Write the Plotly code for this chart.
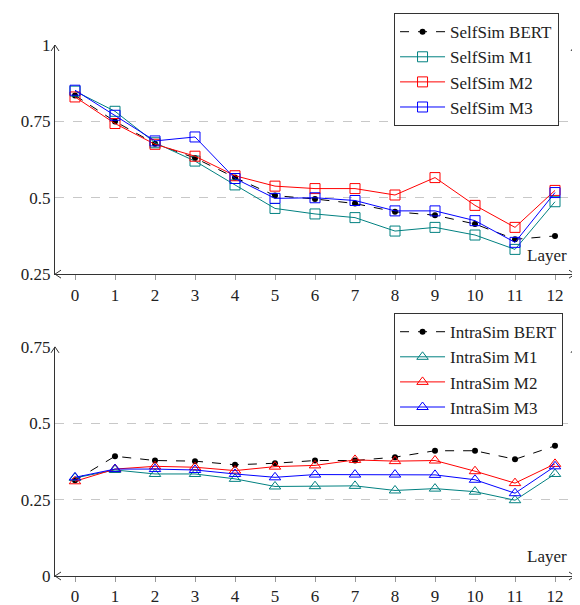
import plotly.graph_objects as go
from plotly.subplots import make_subplots

layers = list(range(13))

# self-similarity per layer
self_bert = [0.835, 0.750, 0.677, 0.630, 0.566, 0.507, 0.496, 0.481, 0.454, 0.443, 0.414, 0.364, 0.375]
self_m1 = [0.849, 0.783, 0.680, 0.620, 0.542, 0.465, 0.447, 0.435, 0.391, 0.403, 0.378, 0.331, 0.487]
self_m2 = [0.830, 0.743, 0.675, 0.636, 0.572, 0.538, 0.530, 0.530, 0.509, 0.566, 0.475, 0.403, 0.524]
self_m3 = [0.852, 0.770, 0.686, 0.699, 0.563, 0.498, 0.500, 0.491, 0.457, 0.457, 0.425, 0.354, 0.517]

# intra-similarity per layer
intra_bert = [0.313, 0.392, 0.378, 0.376, 0.364, 0.369, 0.378, 0.378, 0.389, 0.410, 0.410, 0.382, 0.426]
intra_m1 = [0.321, 0.347, 0.334, 0.334, 0.318, 0.293, 0.294, 0.295, 0.280, 0.286, 0.276, 0.248, 0.334]
intra_m2 = [0.310, 0.350, 0.359, 0.356, 0.345, 0.358, 0.362, 0.380, 0.376, 0.378, 0.343, 0.304, 0.367]
intra_m3 = [0.323, 0.350, 0.350, 0.347, 0.334, 0.323, 0.332, 0.332, 0.332, 0.331, 0.315, 0.271, 0.359]

TEAL = "#008080"
FONT = "Liberation Serif"

fig = make_subplots(rows=2, cols=1)


def add_group(row, legend, prefix, bert, m1, m2, m3, symbol):
    fig.add_trace(go.Scatter(x=layers, y=bert, name=prefix + " BERT", mode="lines+markers",
                             line=dict(color="black", width=1, dash="dash"),
                             marker=dict(symbol="circle", size=6, color="black"),
                             legend=legend), row, 1)
    for ys, name, col in [(m1, " M1", TEAL), (m2, " M2", "red"), (m3, " M3", "blue")]:
        fig.add_trace(go.Scatter(x=layers, y=ys, name=prefix + name, mode="lines+markers",
                                 line=dict(color=col, width=1),
                                 marker=dict(symbol=symbol, size=10, color=col,
                                             line=dict(width=1, color=col)),
                                 legend=legend), row, 1)


add_group(1, "legend", "SelfSim", self_bert, self_m1, self_m2, self_m3, "square-open")
add_group(2, "legend2", "IntraSim", intra_bert, intra_m1, intra_m2, intra_m3, "triangle-up-open")

axis_common = dict(showline=True, linecolor="#333333", linewidth=1, automargin=False,
                   tickfont=dict(family=FONT, size=17, color="#222222"))

fig.update_xaxes(range=[-0.5, 12.5], tickmode="array", tickvals=layers, ticks="outside",
                 ticklen=5, tickcolor="#999999", showgrid=False, zeroline=False, **axis_common)
fig.update_yaxes(dtick=0.25, ticks="", showgrid=True, gridcolor="#c8c8c8", griddash="dash",
                 gridwidth=1, mirror=True, zeroline=False, **axis_common)
fig.update_yaxes(range=[0.25, 1], row=1, col=1)
fig.update_yaxes(range=[0, 0.75], row=2, col=1)

legend_style = dict(xanchor="left", yanchor="top", bordercolor="#333333", borderwidth=1,
                    bgcolor="white", font=dict(family=FONT, size=17),
                    itemwidth=45, tracegroupgap=0)

# page body adds 8px on the top/left, so the figure is a bit smaller than the window
fig.update_layout(
    width=572, height=597,
    margin=dict(l=47, r=5, t=35, b=29),
    plot_bgcolor="white", paper_bgcolor="white",
    font=dict(family=FONT, size=17, color="#222222"),
    xaxis=dict(domain=[0, 1]), xaxis2=dict(domain=[0, 1]),
    yaxis=dict(domain=[0.5685, 1]), yaxis2=dict(domain=[0, 0.4315]),
    legend=dict(x=0.652, y=1.06, **legend_style),
    legend2=dict(x=0.652, y=0.495, **legend_style),
)

# axis label and arrow heads
for xr, yr in [("x domain", "y domain"), ("x2 domain", "y2 domain")]:
    fig.add_annotation(text="Layer", x=0.946, y=0.083, xref=xr, yref=yr, showarrow=False,
                       xanchor="center", yanchor="middle",
                       font=dict(family=FONT, size=17, color="#222222"))
    for xa, ya, path in [(1, 0, "M-6,4 L0,0 L-6,-4"), (0, 0, "M6,4 L0,0 L6,-4"),
                         (0, 1, "M-4,-6 L0,0 L4,-6"), (1, 1, "M-4,-6 L0,0 L4,-6")]:
        fig.add_shape(type="path", xref=xr, yref=yr, xsizemode="pixel", ysizemode="pixel",
                      xanchor=xa, yanchor=ya, path=path, line=dict(color="#333333", width=1))

fig.write_html("out.html")
